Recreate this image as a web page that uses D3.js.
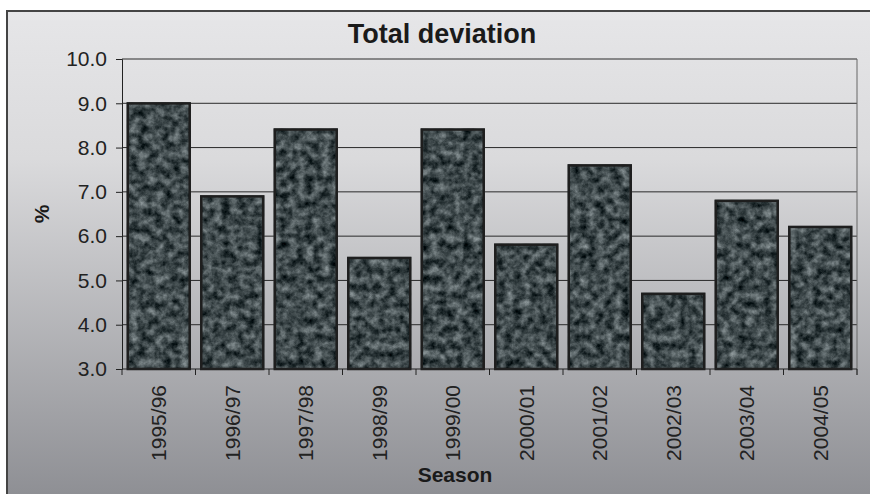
<!DOCTYPE html>
<html>
<head>
<meta charset="utf-8">
<script src="https://cdn.jsdelivr.net/npm/d3@7"></script>
<style>
  body { margin: 0; background: #fff; }
  svg { display: block; font-family: Arial, "Liberation Sans", sans-serif; }
</style>
</head>
<body>
<div id="chart"></div>
<script>
// data
var seasons = ["1995/96", "1996/97", "1997/98", "1998/99", "1999/00",
               "2000/01", "2001/02", "2002/03", "2003/04", "2004/05"];
var deviation = [9.02, 6.92, 8.43, 5.53, 8.43, 5.83, 7.62, 4.72, 6.82, 6.23];
var yTicks = [3, 4, 5, 6, 7, 8, 9, 10];

var W = 870, H = 494;
var margin = {left: 122, right: 13, top: 59, bottom: 125};
var width = W - margin.left - margin.right,
    height = H - margin.top - margin.bottom;

var svg = d3.select("#chart").append("svg")
    .attr("width", W)
    .attr("height", H);

var defs = svg.append("defs");
var grad = defs.append("linearGradient")
    .attr("id", "bg").attr("x1", 0).attr("y1", 0).attr("x2", 0).attr("y2", 1);
grad.append("stop").attr("offset", "0%").attr("stop-color", "#e6e6e8");
grad.append("stop").attr("offset", "30%").attr("stop-color", "#dadadc");
grad.append("stop").attr("offset", "100%").attr("stop-color", "#8c8d92");

/* blotchy texture for the bars */
var filt = defs.append("filter").attr("id", "tex")
    .attr("x", 0).attr("y", 0).attr("width", 1).attr("height", 1)
    .attr("color-interpolation-filters", "sRGB");
filt.append("feTurbulence")
    .attr("type", "fractalNoise")
    .attr("baseFrequency", 0.12)
    .attr("numOctaves", 4)
    .attr("seed", 11)
    .attr("result", "n");
filt.append("feColorMatrix")
    .attr("in", "n")
    .attr("type", "matrix")
    .attr("values", "0.72 0 0 0 -0.11  0.72 0 0 0 -0.07  0.72 0 0 0 -0.06  0 0 0 0 1")
    .attr("result", "c");
filt.append("feComposite")
    .attr("in", "c").attr("in2", "SourceAlpha").attr("operator", "in");

// outer frame
svg.append("rect")
    .attr("x", 7).attr("y", 11)
    .attr("width", W).attr("height", H)
    .attr("fill", "url(#bg)")
    .attr("stroke", "#444")
    .attr("stroke-width", 2);

svg.append("text")
    .attr("x", 442).attr("y", 43)
    .attr("text-anchor", "middle")
    .style("font-size", "27px").style("font-weight", "bold").style("fill", "#1a1a1a")
    .text("Total deviation");

var g = svg.append("g")
    .attr("transform", "translate(" + margin.left + "," + margin.top + ")");

var x = d3.scaleBand().domain(seasons).range([0, width]).paddingInner(0.13).paddingOuter(0.065);
var y = d3.scaleLinear().domain([3, 10]).range([height, 0]);

// gridlines
g.selectAll(".grid")
    .data(yTicks.slice(1))
    .enter().append("line")
    .attr("x1", 0).attr("x2", width)
    .attr("y1", function(d) { return y(d); })
    .attr("y2", function(d) { return y(d); })
    .attr("stroke", "#2a2a2a")
    .attr("stroke-width", 1);

// plot area right edge
g.append("line")
    .attr("x1", width).attr("x2", width).attr("y1", 0).attr("y2", height + 6)
    .attr("stroke", "#666").attr("stroke-width", 1);

// bars
g.selectAll(".bar")
    .data(deviation)
    .enter().append("rect")
    .attr("class", "bar")
    .attr("x", function(d, i) { return x(seasons[i]); })
    .attr("width", x.bandwidth())
    .attr("y", function(d) { return y(d); })
    .attr("height", function(d) { return height - y(d); })
    .attr("fill", "#3c4648")
    .attr("filter", "url(#tex)");

g.selectAll(".barEdge")
    .data(deviation)
    .enter().append("rect")
    .attr("class", "barEdge")
    .attr("x", function(d, i) { return x(seasons[i]) + 1; })
    .attr("width", x.bandwidth() - 2)
    .attr("y", function(d) { return y(d) + 1; })
    .attr("height", function(d) { return height - y(d) - 1; })
    .attr("fill", "none")
    .attr("stroke", "#1e1e1e")
    .attr("stroke-width", 2.5);

// y axis
var yAxis = d3.axisLeft(y).tickValues(yTicks).tickSize(6).tickPadding(9)
    .tickFormat(d3.format(".1f"));
var ya = g.append("g").call(yAxis);
ya.attr("font-family", null);
ya.select(".domain").attr("stroke", "#222");
ya.selectAll(".tick line").attr("stroke", "#222");
ya.selectAll("text").style("font-size", "21px").style("fill", "#222");

// x axis: ticks between categories
g.append("line")
    .attr("x1", 0).attr("x2", width).attr("y1", height).attr("y2", height)
    .attr("stroke", "#222");
var step = x.step();
g.selectAll(".xtick")
    .data(d3.range(seasons.length + 1))
    .enter().append("line")
    .attr("x1", function(i) { return i * step; })
    .attr("x2", function(i) { return i * step; })
    .attr("y1", height).attr("y2", height + 6)
    .attr("stroke", "#222");

g.selectAll(".xlab")
    .data(seasons)
    .enter().append("text")
    .attr("transform", function(d) {
        return "translate(" + (x(d) + x.bandwidth() / 2 + 7.5) + "," + (height + 16) + ") rotate(-90)";
    })
    .attr("text-anchor", "end")
    .style("font-size", "21px").style("fill", "#222")
    .text(function(d) { return d; });

// axis titles
svg.append("text")
    .attr("x", 455).attr("y", 482)
    .attr("text-anchor", "middle")
    .style("font-size", "21px").style("font-weight", "bold").style("fill", "#1a1a1a")
    .text("Season");

svg.append("text")
    .attr("transform", "translate(49,214) rotate(-90)")
    .attr("text-anchor", "middle")
    .style("font-size", "21px").style("font-weight", "bold").style("fill", "#1a1a1a")
    .text("%");
</script>
</body>
</html>
